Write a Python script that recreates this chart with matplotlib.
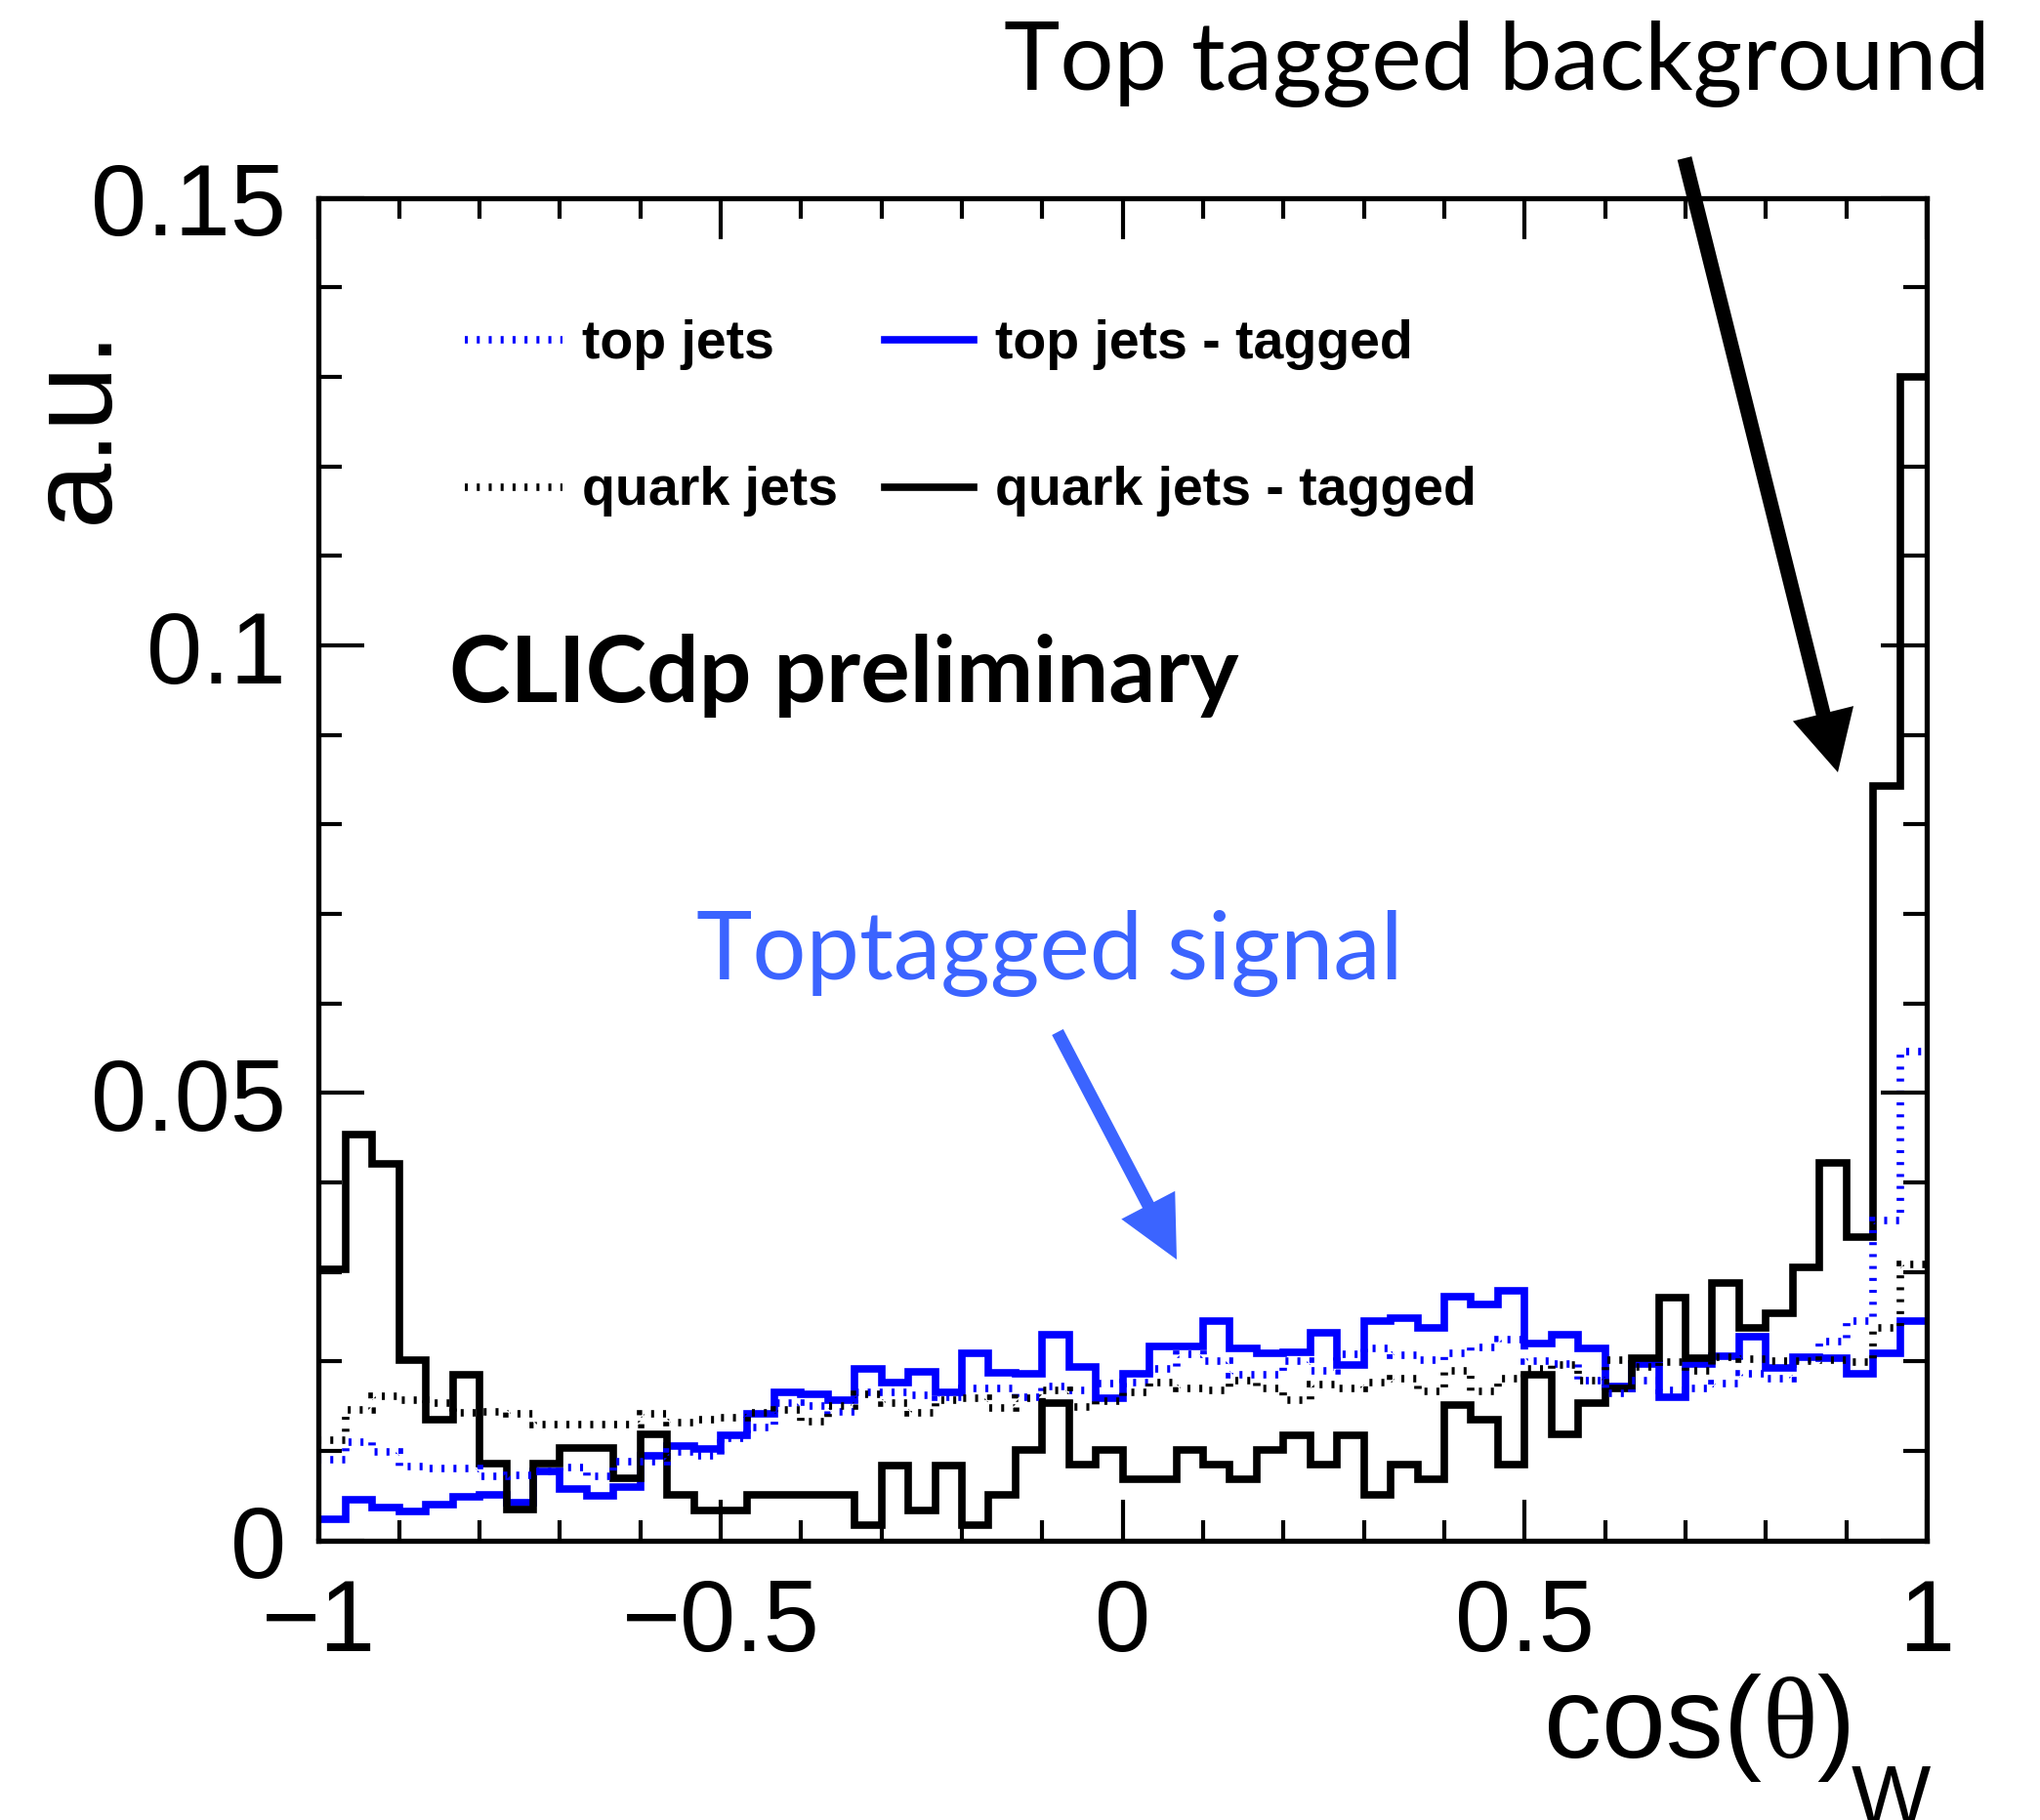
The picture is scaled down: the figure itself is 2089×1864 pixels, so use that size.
import numpy as np
import matplotlib.pyplot as plt
from matplotlib.lines import Line2D
from matplotlib.patches import FancyArrow
from matplotlib.transforms import IdentityTransform

# 60 bins in cos(theta)_W
bin_edges = np.linspace(-1.0, 1.0, 61)

top_all = [
    0.0090, 0.0110, 0.0099, 0.0083, 0.0080, 0.0080, 0.0072, 0.0073, 0.0077, 0.0082,
    0.0072, 0.0088, 0.0088, 0.0099, 0.0095, 0.0114, 0.0126, 0.0153, 0.0150, 0.0144,
    0.0166, 0.0165, 0.0162, 0.0160, 0.0170, 0.0170, 0.0160, 0.0172, 0.0168, 0.0175,
    0.0176, 0.0192, 0.0208, 0.0200, 0.0185, 0.0185, 0.0200, 0.0190, 0.0208, 0.0215,
    0.0207, 0.0202, 0.0209, 0.0216, 0.0224, 0.0200, 0.0197, 0.0179, 0.0164, 0.0179,
    0.0168, 0.0170, 0.0175, 0.0186, 0.0181, 0.0203, 0.0222, 0.0245, 0.0358, 0.0546,
]

top_tagged = [
    0.0024, 0.0045, 0.0037, 0.0032, 0.0040, 0.0049, 0.0051, 0.0042, 0.0077, 0.0057,
    0.0050, 0.0060, 0.0095, 0.0106, 0.0102, 0.0117, 0.0141, 0.0166, 0.0163, 0.0157,
    0.0192, 0.0176, 0.0188, 0.0165, 0.0209, 0.0187, 0.0186, 0.0230, 0.0194, 0.0159,
    0.0186, 0.0217, 0.0217, 0.0245, 0.0215, 0.0209, 0.0210, 0.0232, 0.0196, 0.0245,
    0.0248, 0.0237, 0.0272, 0.0264, 0.0279, 0.0220, 0.0230, 0.0215, 0.0172, 0.0197,
    0.0160, 0.0197, 0.0206, 0.0228, 0.0193, 0.0205, 0.0204, 0.0186, 0.0209, 0.0245,
]

quark_all = [
    0.0112, 0.0146, 0.0161, 0.0157, 0.0153, 0.0143, 0.0144, 0.0142, 0.0130, 0.0130,
    0.0130, 0.0130, 0.0142, 0.0132, 0.0135, 0.0137, 0.0143, 0.0146, 0.0133, 0.0150,
    0.0163, 0.0154, 0.0143, 0.0157, 0.0159, 0.0148, 0.0159, 0.0168, 0.0149, 0.0156,
    0.0165, 0.0176, 0.0170, 0.0168, 0.0179, 0.0170, 0.0157, 0.0174, 0.0170, 0.0176,
    0.0181, 0.0167, 0.0189, 0.0167, 0.0181, 0.0192, 0.0196, 0.0179, 0.0201, 0.0194,
    0.0199, 0.0190, 0.0205, 0.0203, 0.0200, 0.0200, 0.0202, 0.0199, 0.0238, 0.0308,
]

quark_tagged = [
    0.0303, 0.0454, 0.0421, 0.0202, 0.0135, 0.0185, 0.0086, 0.0035, 0.0086, 0.0103,
    0.0103, 0.0069, 0.0119, 0.0051, 0.0034, 0.0034, 0.0051, 0.0051, 0.0051, 0.0051,
    0.0017, 0.0084, 0.0034, 0.0084, 0.0017, 0.0051, 0.0101, 0.0154, 0.0085, 0.0101,
    0.0068, 0.0068, 0.0101, 0.0085, 0.0068, 0.0101, 0.0117, 0.0085, 0.0117, 0.0051,
    0.0085, 0.0068, 0.0151, 0.0135, 0.0085, 0.0185, 0.0119, 0.0153, 0.0170, 0.0204,
    0.0271, 0.0204, 0.0288, 0.0237, 0.0254, 0.0305, 0.0422, 0.0339, 0.0843, 0.1300,
]

legend_labels = ["top jets", "top jets - tagged", "quark jets", "quark jets - tagged"]

W, H = 2089, 1865
BLUE = "#0000ff"
ARROW_BLUE = "#3b64ff"
solid_lw = 5.5
dot_lw = 5.5
dot_ls = (0, (0.4, 1.2))

plt.rcParams["font.family"] = ["Liberation Sans", "DejaVu Sans"]

fig = plt.figure(figsize=(W / 100, H / 100), dpi=100)
ax = fig.add_axes([326.4 / W, 1 - 1578.7 / H, (1973 - 326.4) / W, (1578.7 - 203.8) / H])


def fx(x):
    return x / W


def fy(y):
    return 1 - y / H


# histograms
ax.stairs(top_tagged, bin_edges, color=BLUE, linewidth=solid_lw, baseline=None)
ax.stairs(quark_tagged, bin_edges, color="black", linewidth=solid_lw, baseline=None)
ax.stairs(top_all, bin_edges, color=BLUE, baseline=None,
          linewidth=dot_lw, linestyle=dot_ls, capstyle="butt")
ax.stairs(quark_all, bin_edges, color="black", baseline=None,
          linewidth=dot_lw, linestyle=dot_ls, capstyle="butt")

ax.set_xlim(-1, 1)
ax.set_ylim(0, 0.15)
ax.set_xticks([-1, -0.5, 0, 0.5, 1])
ax.set_xticklabels(["\u22121", "\u22120.5", "0", "0.5", "1"])
ax.set_xticks(np.arange(-1, 1.001, 0.1), minor=True)
ax.set_yticks([0, 0.05, 0.1, 0.15])
ax.set_yticklabels(["0", "0.05", "0.1", "0.15"])
ax.set_yticks(np.arange(0, 0.1501, 0.01), minor=True)

for side in ax.spines.values():
    side.set_linewidth(3.8)
ax.tick_params(which="both", direction="in", top=True, right=True,
               width=3, labelsize=74)
ax.tick_params(axis="x", which="major", length=30, pad=27)
ax.tick_params(axis="x", which="minor", length=15)
ax.tick_params(axis="y", which="major", length=34, pad=24)
ax.tick_params(axis="y", which="minor", length=17)

# axis titles
fig.text(fx(110), fy(335), "a.u.", rotation=90, rotation_mode="anchor",
         ha="right", va="baseline", fontsize=87)

renderer = fig.canvas.get_renderer()
x_cur = 1581
for txt, fam, size, base, gap in [("cos(", "Liberation Sans", 85, 1800, 0),
                                  ("\u03b8", "Liberation Serif", 85, 1800, 0),
                                  (")", "Liberation Sans", 85, 1800, 0),
                                  ("W", "Liberation Sans", 62, 1868, -4)]:
    t = fig.text(fx(x_cur + gap), fy(base), txt, family=fam, fontsize=size,
                 ha="left", va="baseline")
    bb = t.get_window_extent(renderer)
    x_cur = bb.x1

# legend drawn by hand in two columns
legend_rows = [(349, 367), (500, 517)]
legend_cols = [(476, 576, 596), (906, 997, 1019)]
legend_styles = [
    dict(color=BLUE, linewidth=dot_lw, linestyle=dot_ls, dash_capstyle="butt"),
    dict(color=BLUE, linewidth=solid_lw),
    dict(color="black", linewidth=dot_lw, linestyle=dot_ls, dash_capstyle="butt"),
    dict(color="black", linewidth=solid_lw),
]
for i, label in enumerate(legend_labels):
    ly, base = legend_rows[i // 2]
    x0, x1, tx = legend_cols[i % 2]
    fig.add_artist(Line2D([fx(x0), fx(x1)], [fy(ly), fy(ly)],
                          transform=fig.transFigure, **legend_styles[i]))
    fig.text(fx(tx), fy(base), label, fontsize=40, fontweight="bold",
             ha="left", va="baseline")

fig.text(fx(460), fy(719), "CLICdp preliminary", family="Lato",
         fontweight="bold", fontsize=68, ha="left", va="baseline")

fig.text(fx(713), fy(1003), "Toptagged signal", family="Lato",
         color=ARROW_BLUE, fontsize=70, ha="left", va="baseline")
fig.text(fx(1028), fy(92), "Top tagged background", family="Lato",
         color="black", fontsize=70, ha="left", va="baseline")


def arrow(x0, y0, x1, y1, color, width, head_w, head_l):
    a = FancyArrow(x0, H - y0, x1 - x0, -(y1 - y0), width=width,
                   head_width=head_w, head_length=head_l,
                   length_includes_head=True, color=color, lw=0,
                   transform=IdentityTransform())
    fig.add_artist(a)


arrow(1725, 163, 1882, 792, "black", 15, 64, 62)
arrow(1083, 1058, 1205, 1291, ARROW_BLUE, 13, 62, 63)

fig.savefig("out.png", dpi=100)
